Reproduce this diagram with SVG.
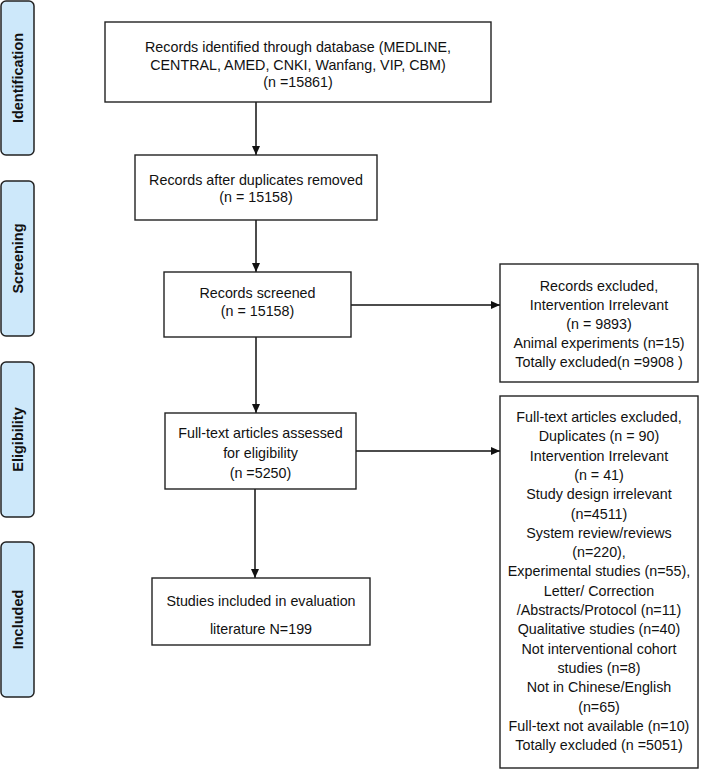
<svg xmlns="http://www.w3.org/2000/svg" width="710" height="770" viewBox="0 0 710 770">
<defs>
<style>
.lane{fill:#cde8fa;stroke:#222;stroke-width:1.5}
.lt{font-family:"Liberation Sans",Arial,sans-serif;font-weight:bold;font-size:14.5px;fill:#111;text-anchor:middle}
.box{fill:#fff;stroke:#222;stroke-width:1.4}
.t{font-family:"Liberation Sans",Arial,sans-serif;font-size:14.3px;fill:#111;text-anchor:middle}
.c{stroke:#111;stroke-width:1.5;fill:none;marker-end:url(#ah)}
</style>
<marker id="ah" markerWidth="10" markerHeight="8" refX="9" refY="4" orient="auto" markerUnits="userSpaceOnUse">
<path d="M0,0 L9,4 L0,8 Z" fill="#111"/>
</marker>
</defs>
<rect width="710" height="770" fill="#fff"/>
<g id="lane-identification"><rect class="lane" x="1" y="1" width="33" height="154" rx="5"/><text class="lt" transform="translate(23,78) rotate(-90)">Identification</text></g>
<g id="lane-screening"><rect class="lane" x="1" y="181" width="33" height="155" rx="5"/><text class="lt" transform="translate(23,258.5) rotate(-90)">Screening</text></g>
<g id="lane-eligibility"><rect class="lane" x="1" y="362" width="33" height="155" rx="5"/><text class="lt" transform="translate(23,439.5) rotate(-90)">Eligibility</text></g>
<g id="lane-included"><rect class="lane" x="1" y="542" width="33" height="155" rx="5"/><text class="lt" transform="translate(23,619.5) rotate(-90)">Included</text></g>
<g id="connectors">
<line class="c" x1="256" y1="102" x2="256" y2="155"/>
<line class="c" x1="256" y1="220" x2="256" y2="272"/>
<line class="c" x1="256" y1="337" x2="256" y2="413"/>
<line class="c" x1="255" y1="489" x2="255" y2="578"/>
<line class="c" x1="351" y1="305" x2="500" y2="305"/>
<line class="c" x1="356" y1="451" x2="500" y2="451"/>
</g>
<g id="identified"><rect class="box" x="105" y="22" width="386" height="80"/>
<text class="t" x="298" y="52">Records identified through database (MEDLINE,</text>
<text class="t" x="298" y="69.5">CENTRAL, AMED, CNKI, Wanfang, VIP, CBM)</text>
<text class="t" x="298" y="87">(n =15861)</text></g>
<g id="duplicates"><rect class="box" x="135" y="155" width="242" height="65"/>
<text class="t" x="256" y="185">Records after duplicates removed</text>
<text class="t" x="256" y="202">(n = 15158)</text></g>
<g id="screened"><rect class="box" x="164" y="272" width="187" height="65"/>
<text class="t" x="257.5" y="298">Records screened</text>
<text class="t" x="257.5" y="316">(n = 15158)</text></g>
<g id="fulltext"><rect class="box" x="165" y="413" width="191" height="76"/>
<text class="t" x="260.5" y="438">Full-text articles assessed</text>
<text class="t" x="260.5" y="458">for eligibility</text>
<text class="t" x="260.5" y="478">(n =5250)</text></g>
<g id="included"><rect class="box" x="152" y="578" width="218" height="67"/>
<text class="t" x="261" y="606">Studies included in evaluation</text>
<text class="t" x="261" y="634">literature N=199</text></g>
<g id="excluded1"><rect class="box" x="500" y="264" width="198" height="118"/>
<text class="t" x="599" y="291">Records excluded,</text>
<text class="t" x="599" y="310">Intervention Irrelevant</text>
<text class="t" x="599" y="329">(n = 9893)</text>
<text class="t" x="599" y="348">Animal experiments (n=15)</text>
<text class="t" x="599" y="367">Totally excluded(n =9908 )</text></g>
<g id="excluded2"><rect class="box" x="500" y="396" width="198" height="372"/>
<text class="t" x="599" y="422">Full-text articles excluded,</text>
<text class="t" x="599" y="441.3">Duplicates (n = 90)</text>
<text class="t" x="599" y="460.6">Intervention Irrelevant</text>
<text class="t" x="599" y="479.9">(n = 41)</text>
<text class="t" x="599" y="499.2">Study design irrelevant</text>
<text class="t" x="599" y="518.5">(n=4511)</text>
<text class="t" x="599" y="537.8">System review/reviews</text>
<text class="t" x="599" y="557.1">(n=220),</text>
<text class="t" x="599" y="576.4">Experimental studies (n=55),</text>
<text class="t" x="599" y="595.7">Letter/ Correction</text>
<text class="t" x="599" y="615">/Abstracts/Protocol (n=11)</text>
<text class="t" x="599" y="634.3">Qualitative studies (n=40)</text>
<text class="t" x="599" y="653.6">Not interventional cohort</text>
<text class="t" x="599" y="672.9">studies (n=8)</text>
<text class="t" x="599" y="692.2">Not in Chinese/English</text>
<text class="t" x="599" y="711.5">(n=65)</text>
<text class="t" x="599" y="730.8">Full-text not available (n=10)</text>
<text class="t" x="599" y="750.1">Totally excluded (n =5051)</text></g>
</svg>
